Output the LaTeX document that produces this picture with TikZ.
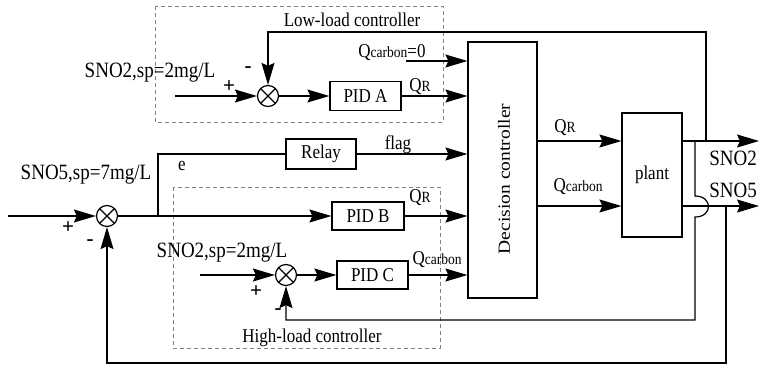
\documentclass[tikz,border=0pt]{standalone}
\usepackage{fontspec}
\setmainfont{Liberation Serif}
\usepackage{graphicx}
\usetikzlibrary{arrows.meta}
\newcommand{\tx}[1]{\scalebox{1}[1.15]{#1}}
\newcommand{\subt}[1]{{\fontsize{13.5}{14}\selectfont #1}}
\begin{document}
\begin{tikzpicture}[x=1pt,y=-1pt,
  every node/.style={font=\fontsize{17}{19}\selectfont, inner sep=0pt},
  blk/.style={draw, line width=1.2pt, inner sep=0pt},
  summ/.style={draw, circle, line width=1.2pt, minimum size=21pt,
    path picture={\draw[line width=1.2pt]
      (path picture bounding box.north west) -- (path picture bounding box.south east)
      (path picture bounding box.north east) -- (path picture bounding box.south west);}},
  arr/.style={line width=1.2pt, -{Stealth[length=22pt,width=13pt,inset=3pt]}},
  ln/.style={line width=1.2pt},
  grp/.style={draw=gray, dash pattern=on 4pt off 3pt, line width=0.9pt},
  big/.style={font=\fontsize{19}{21}\selectfont},
  sgn/.style={font=\fontsize{21}{23}\selectfont\bfseries},
]
\fill[white] (0,0) rectangle (760,367);
\useasboundingbox (0,0) rectangle (760,367);

% dashed controller groups
\draw[grp] (155,6) rectangle (443,122);
\draw[grp] (173,187) rectangle (440,348);

% blocks
\node[blk, minimum width=71pt, minimum height=29pt] (pida) at (365.5,96) {\tx{PID A}};
\node[blk, minimum width=70pt, minimum height=30pt] (relay) at (321,154) {\tx{Relay}};
\node[blk, minimum width=72pt, minimum height=28pt] (pidb) at (368,216) {\tx{PID B}};
\node[blk, minimum width=71pt, minimum height=28pt] (pidc) at (372.5,275) {\tx{PID C}};
\node[blk, minimum width=69pt, minimum height=256pt] (dec) at (502.5,170) {};
\node[rotate=90] (dectxt) at (504,179) {\scalebox{1.15}[1]{Decision controller}};
\node[blk, minimum width=60pt, minimum height=124pt] (plant) at (652,175) {\tx{plant}};

% summing junctions
\node[summ] (sa) at (268,96) {};
\node[summ] (sm) at (107,216) {};
\node[summ] (sc) at (286,275) {};

% coordinates
\coordinate (ina) at (175,96);
\coordinate (inm) at (8,216);
\coordinate (inc) at (200,275);
\coordinate (ej) at (158,216);
\coordinate (ejt) at (158,154);
\coordinate (q0) at (406,61);
\coordinate (o2) at (759,141);
\coordinate (o5) at (759,206);
\coordinate (f2) at (706,141);
\coordinate (f2t) at (706,32);
\coordinate (fa) at (268,32);
\coordinate (g2) at (695,141);
\coordinate (b1) at (695,196);
\coordinate (b2) at (695,217);
\coordinate (g2b) at (695,320);
\coordinate (gc) at (286,320);
\coordinate (f5) at (726,206);
\coordinate (f5b) at (726,363);
\coordinate (fm) at (107,363);

% low-load loop
\draw[arr] (ina) -- (sa);
\draw[arr] (sa) -- (pida);
\draw[arr] (pida) -- (dec.west |- pida);
\draw[arr] (q0) -- (dec.west |- q0);
\draw[arr] (f2) -- (f2t) -- (fa) -- (sa);

% main error path
\draw[arr] (inm) -- (sm);
\draw[arr] (sm) -- (pidb);
\draw[ln] (ej) -- (ejt) -- (relay);
\draw[arr] (relay) -- (dec.west |- relay);
\draw[arr] (pidb) -- (dec.west |- pidb);

% high-load loop
\draw[arr] (inc) -- (sc);
\draw[arr] (sc) -- (pidc);
\draw[arr] (pidc) -- (dec.west |- pidc);

% decision -> plant -> outputs
\draw[arr] (dec.east |- f2) -- (plant.west |- f2);
\draw[arr] (dec.east |- f5) -- (plant.west |- f5);
\draw[arr] (plant.east |- o2) -- (o2);
\draw[arr] (plant.east |- o5) -- (o5);

% feedbacks
\draw[arr] (f5) -- (f5b) -- (fm) -- (sm);
\draw[arr] (g2) -- (b1) .. controls +(18,0) and +(18,0) .. (b2) -- (g2b) -- (gc) -- (sc);

% labels
\node[anchor=base] at (352,26) {\tx{Low-load controller}};
\node[anchor=base] at (312,342) {\tx{High-load controller}};
\node[big, anchor=base] at (150,77) {\tx{SNO2,sp=2mg/L}};
\node[big, anchor=base] at (86,179) {\tx{SNO5,sp=7mg/L}};
\node[big, anchor=base] at (222,257) {\tx{SNO2,sp=2mg/L}};
\node[anchor=base] at (182,170) {\tx{e}};
\node[anchor=base] at (398,149) {\tx{flag}};
\node[anchor=base] at (420,91) {\tx{Q\subt{R}}};
\node[anchor=base] at (392,57) {\tx{Q\subt{carbon}=0}};
\node[anchor=base] at (420,202) {\tx{Q\subt{R}}};
\node[anchor=base] at (437,264) {\tx{Q\subt{carbon}}};
\node[anchor=base] at (565,132) {\tx{Q\subt{R}}};
\node[anchor=base] at (578,191) {\tx{Q\subt{carbon}}};
\node[big, anchor=base] at (733,165) {\tx{SNO2}};
\node[big, anchor=base] at (733,197) {\tx{SNO5}};

% signs
\node[sgn] at (229,87) {+};
\node[sgn] at (248,70) {-};
\node[sgn] at (68,228) {+};
\node[sgn] at (90,243) {-};
\node[sgn] at (256,292) {+};
\node[sgn] at (278,312) {-};
\end{tikzpicture}
\end{document}
